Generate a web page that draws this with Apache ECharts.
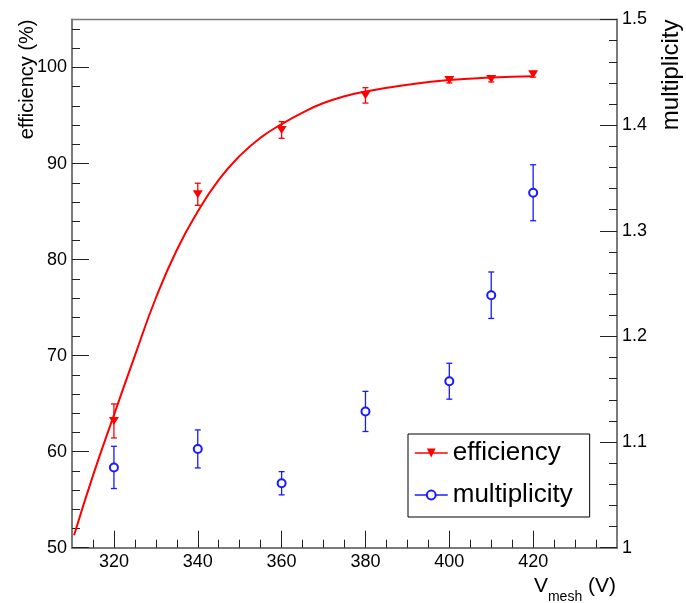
<!DOCTYPE html>
<html><head><meta charset="utf-8">
<script src="https://cdn.jsdelivr.net/npm/echarts@6/dist/echarts.min.js"></script>
<style>html,body{margin:0;padding:0;background:#fff}#c{width:686px;height:603px}</style>
</head><body><div id="c"></div>
<script>
// ---- data ----
const voltages = [320, 340, 360, 380, 400, 410, 420];
const efficiency = [63.2, 86.8, 93.5, 97.1, 98.7, 98.8, 99.3];
const efficiencyErr = [1.77, 1.15, 0.87, 0.8, 0.3, 0.3, 0.3];
const multiplicity = [1.076, 1.0935, 1.061, 1.129, 1.1576, 1.239, 1.336];
const multiplicityErr = [0.020, 0.018, 0.011, 0.019, 0.017, 0.022, 0.0265];
// fitted efficiency curve
const fitV = [310.5, 315, 320, 325, 330, 335, 340, 345, 350, 355, 360, 365, 370, 375, 380, 390, 400, 410, 420];
const fitEff = [51.3, 57.5, 63.8, 70.0, 76.0, 81.0, 85.0, 88.3, 90.8, 92.7, 94.1, 95.3, 96.3, 97.0, 97.5, 98.2, 98.7, 98.95, 99.1];
// tick labels / tick positions
const xMajorTicks = [320, 340, 360, 380, 400, 420];
const xMinorTicks = [315, 325, 330, 335, 345, 350, 355, 365, 370, 375, 385, 390, 395, 405, 410, 415, 425, 430, 435];
const effMajorTicks = [50, 60, 70, 80, 90, 100];
const effMinorTicks = [52, 54, 56, 58, 62, 64, 66, 68, 72, 74, 76, 78, 82, 84, 86, 88, 92, 94, 96, 98, 102, 104];
const seriesNames = ['efficiency', 'multiplicity'];

const FONT = "'Liberation Sans', Arial, Helvetica, sans-serif";
const AXIS_COLOR = '#7a7a7a';
const TICK_COLOR = '#222';
const RED = '#ff0000';
const BLUE = '#1a1aff';
const TRI_DOWN = 'path://M0,0L10,0L5,9Z';

function errRender(params, api) {
  const x = api.value(0), lo = api.value(1), hi = api.value(2);
  const p1 = api.coord([x, lo]), p2 = api.coord([x, hi]);
  const cap = 3;
  const style = { stroke: api.visual('color'), lineWidth: 1.3 };
  return { type: 'group', children: [
    { type: 'line', shape: { x1: p1[0], y1: p1[1], x2: p2[0], y2: p2[1] }, style: style },
    { type: 'line', shape: { x1: p1[0] - cap, y1: p1[1], x2: p1[0] + cap, y2: p1[1] }, style: style },
    { type: 'line', shape: { x1: p2[0] - cap, y1: p2[1], x2: p2[0] + cap, y2: p2[1] }, style: style }
  ]};
}

const chart = echarts.init(document.getElementById('c'), null, { renderer: 'canvas' });
const labelStyle = { color: '#000', fontSize: 18, fontFamily: FONT };

const option = {
  animation: false,
  backgroundColor: '#fff',
  grid: { left: 72, right: 69, top: 19.5, bottom: 55.3, show: true, borderColor: AXIS_COLOR, borderWidth: 1.5, backgroundColor: 'transparent' },
  xAxis: [
    { type: 'value', min: 310, max: 440, position: 'bottom',
      axisLine: { show: true, lineStyle: { color: AXIS_COLOR, width: 2 } },
      axisTick: { show: true, inside: true, length: 17, customValues: xMajorTicks, lineStyle: { color: TICK_COLOR, width: 1 } },
      axisLabel: { show: true, customValues: xMajorTicks, margin: 5, ...labelStyle },
      splitLine: { show: false } },
    { type: 'value', min: 310, max: 440, position: 'bottom',
      axisLine: { show: false },
      axisTick: { show: true, inside: true, length: 8, customValues: xMinorTicks, lineStyle: { color: TICK_COLOR, width: 1 } },
      axisLabel: { show: false },
      splitLine: { show: false } }
  ],
  yAxis: [
    { type: 'value', min: 50, max: 105, position: 'left',
      axisLine: { show: true, lineStyle: { color: AXIS_COLOR, width: 2 } },
      axisTick: { show: true, inside: true, length: 17, customValues: effMajorTicks, lineStyle: { color: TICK_COLOR, width: 1 } },
      axisLabel: { show: true, customValues: effMajorTicks, margin: 5, ...labelStyle },
      splitLine: { show: false } },
    { type: 'value', min: 50, max: 105, position: 'left',
      axisLine: { show: false },
      axisTick: { show: true, inside: true, length: 8, customValues: effMinorTicks, lineStyle: { color: TICK_COLOR, width: 1 } },
      axisLabel: { show: false },
      splitLine: { show: false } },
    { type: 'value', min: 1, max: 1.5, interval: 0.1, position: 'right',
      axisLine: { show: true, lineStyle: { color: AXIS_COLOR, width: 2 } },
      axisTick: { show: true, inside: true, length: 17, lineStyle: { color: TICK_COLOR, width: 1 } },
      minorTick: { show: true, splitNumber: 5, length: 8, lineStyle: { color: TICK_COLOR, width: 1 } },
      axisLabel: { show: true, margin: 5, ...labelStyle },
      splitLine: { show: false }, minorSplitLine: { show: false } }
  ],
  legend: {
    left: 408, top: 434, orient: 'vertical',
    data: [
      { name: seriesNames[0], lineStyle: { width: 1.5, opacity: 1, color: RED } },
      { name: seriesNames[1], lineStyle: { width: 1.5, opacity: 1, color: BLUE } }
    ],
    itemWidth: 33, itemHeight: 11, itemGap: 14,
    padding: [5, 17, 8, 6],
    borderColor: '#000', borderWidth: 1, backgroundColor: '#fff',
    textStyle: { color: '#000', fontSize: 26, fontFamily: FONT, lineHeight: 28 },
    selectedMode: false
  },
  graphic: [
    { type: 'text', x: 27, y: 19.5, rotation: Math.PI / 2,
      style: { text: 'efficiency (%)', fill: '#000', fontSize: 20, fontFamily: FONT, align: 'right', verticalAlign: 'middle' } },
    { type: 'text', x: 671, y: 19.5, rotation: Math.PI / 2,
      style: { text: 'multiplicity', fill: '#000', fontSize: 24, fontFamily: FONT, align: 'right', verticalAlign: 'middle' } },
    { type: 'text', x: 616, y: 576,
      style: { text: '{a|V}{s|mesh}{a| (V)}', align: 'right', verticalAlign: 'top',
        rich: {
          a: { fontSize: 21, fontFamily: FONT, fill: '#000', color: '#000', lineHeight: 28, verticalAlign: 'top' },
          s: { fontSize: 14, fontFamily: FONT, fill: '#000', color: '#000', lineHeight: 14, verticalAlign: 'bottom' }
        } } }
  ],
  series: [
    { name: 'efficiencyErr', type: 'custom', xAxisIndex: 0, yAxisIndex: 0, renderItem: errRender,
      itemStyle: { color: RED }, z: 2, silent: true,
      encode: { x: 0, y: [1, 2] },
      data: voltages.map((v, i) => [v, efficiency[i] - efficiencyErr[i], efficiency[i] + efficiencyErr[i]]) },
    { name: 'multiplicityErr', type: 'custom', xAxisIndex: 0, yAxisIndex: 2, renderItem: errRender,
      itemStyle: { color: BLUE }, z: 2, silent: true,
      encode: { x: 0, y: [1, 2] },
      data: voltages.map((v, i) => [v, multiplicity[i] - multiplicityErr[i], multiplicity[i] + multiplicityErr[i]]) },
    { name: 'fit', type: 'line', xAxisIndex: 0, yAxisIndex: 0, smooth: true, showSymbol: false, symbol: 'none',
      lineStyle: { color: RED, width: 2 }, itemStyle: { color: RED }, z: 3, silent: true,
      data: fitV.map((v, i) => [v, fitEff[i]]) },
    { name: seriesNames[0], type: 'line', xAxisIndex: 0, yAxisIndex: 0,
      symbol: TRI_DOWN, symbolSize: [10, 8], showAllSymbol: true,
      lineStyle: { width: 0, opacity: 0 }, itemStyle: { color: RED }, z: 4,
      data: voltages.map((v, i) => [v, efficiency[i]]) },
    { name: seriesNames[1], type: 'line', xAxisIndex: 0, yAxisIndex: 2,
      symbol: 'emptyCircle', symbolSize: 8, showAllSymbol: true,
      lineStyle: { width: 0, opacity: 0 }, itemStyle: { color: BLUE, borderWidth: 1.5 }, z: 4,
      data: voltages.map((v, i) => [v, multiplicity[i]]) }
  ]
};
chart.setOption(option);
</script>
</body></html>
